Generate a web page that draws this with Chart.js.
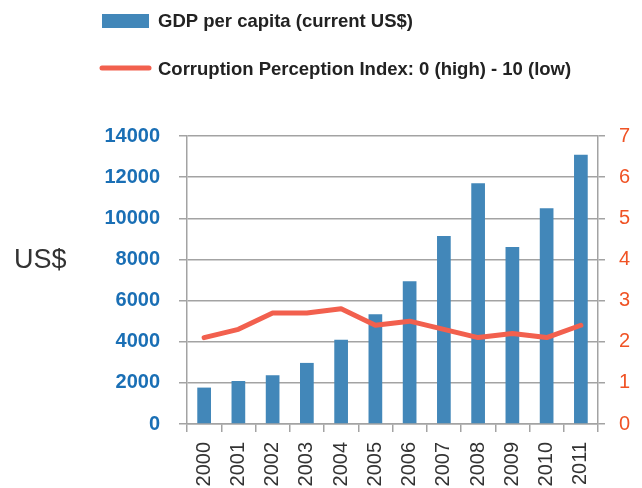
<!DOCTYPE html>
<html>
<head>
<meta charset="utf-8">
<script src="https://cdn.jsdelivr.net/npm/chart.js@4/dist/chart.umd.min.js"></script>
<style>
  html, body { margin: 0; padding: 0; background: #ffffff; }
  #wrap { width: 642px; height: 488px; position: relative; }
</style>
</head>
<body>
<div id="wrap"><canvas id="c" width="642" height="488"></canvas></div>
<script>
const years = ['2000','2001','2002','2003','2004','2005','2006','2007','2008','2009','2010','2011'];
const gdpPerCapita = [1770, 2090, 2370, 2970, 4100, 5330, 6940, 9140, 11700, 8600, 10490, 13090];
const corruptionIndex = [2.1, 2.3, 2.7, 2.7, 2.8, 2.4, 2.5, 2.3, 2.1, 2.2, 2.1, 2.4];
const gdpLabel = 'GDP per capita (current US$)';
const cpiLabel = 'Corruption Perception Index: 0 (high) - 10 (low)';
const leftAxisTitle = 'US$';

const BAR = '#4287b9';
const LINE = '#f2604e';
const GRID = '#a3a3a3';

const customDecor = {
  id: 'customDecor',
  afterDraw(chart) {
    const ctx = chart.ctx;
    const barDs = chart.data.datasets.find(d => d.type === 'bar');
    const lineDs = chart.data.datasets.find(d => d.type === 'line');
    ctx.save();
    // legend row 1 (bars)
    ctx.fillStyle = barDs.backgroundColor;
    ctx.fillRect(102, 14, 47, 14);
    ctx.fillStyle = '#222222';
    ctx.font = 'bold 18.5px "Liberation Sans", Arial, sans-serif';
    ctx.textBaseline = 'middle';
    ctx.textAlign = 'left';
    ctx.fillText(barDs.label, 158, 22);
    // legend row 2 (line)
    ctx.strokeStyle = lineDs.borderColor;
    ctx.lineWidth = 5;
    ctx.lineCap = 'round';
    ctx.beginPath();
    ctx.moveTo(102, 68);
    ctx.lineTo(149, 68);
    ctx.stroke();
    ctx.fillText(lineDs.label, 158, 70);
    // left axis title
    ctx.font = '27px "Liberation Sans", Arial, sans-serif';
    ctx.fillStyle = '#333333';
    ctx.fillText(leftAxisTitle, 14, 261);
    ctx.restore();
  }
};

new Chart(document.getElementById('c'), {
  type: 'bar',
  data: {
    labels: years,
    datasets: [
      {
        type: 'line',
        label: cpiLabel,
        data: corruptionIndex,
        yAxisID: 'y1',
        borderColor: LINE,
        backgroundColor: LINE,
        borderWidth: 5,
        pointRadius: 0,
        tension: 0,
        borderCapStyle: 'round',
        borderJoinStyle: 'round',
        order: 0
      },
      {
        type: 'bar',
        label: gdpLabel,
        data: gdpPerCapita,
        yAxisID: 'y',
        backgroundColor: BAR,
        borderWidth: 0,
        barPercentage: 0.4,
        categoryPercentage: 1.0,
        order: 1
      }
    ]
  },
  options: {
    responsive: false,
    animation: false,
    devicePixelRatio: 1,
    layout: { padding: { top: 136, left: 0, right: 0, bottom: 0 } },
    plugins: {
      legend: { display: false },
      tooltip: { enabled: false }
    },
    scales: {
      x: {
        offset: true,
        afterFit(scale) { scale.height = 64; },
        grid: {
          display: true,
          offset: true,
          drawOnChartArea: false,
          drawTicks: true,
          tickLength: 8,
          color: GRID,
          lineWidth: 1.5
        },
        border: { display: true, color: GRID, width: 1.5 },
        ticks: {
          minRotation: 90,
          maxRotation: 90,
          padding: 10,
          color: '#333333',
          font: { family: '"Liberation Sans", Arial, sans-serif', size: 20 }
        }
      },
      y: {
        position: 'left',
        min: 0,
        max: 14000,
        afterFit(scale) { scale.width = 187; },
        ticks: {
          stepSize: 2000,
          padding: 19,
          color: '#1a6fb5',
          callback: v => String(v),
          font: { family: '"Liberation Sans", Arial, sans-serif', size: 20, weight: 'bold' }
        },
        grid: {
          color: GRID,
          lineWidth: 1.5,
          tickLength: 8,
          drawTicks: true
        },
        border: { display: true, color: GRID, width: 1.5 }
      },
      y1: {
        position: 'right',
        min: 0,
        max: 7,
        afterFit(scale) { scale.width = 44; },
        ticks: {
          stepSize: 1,
          padding: 14,
          color: '#f05325',
          callback: v => String(v),
          font: { family: '"Liberation Sans", Arial, sans-serif', size: 20 }
        },
        grid: {
          drawOnChartArea: false,
          color: GRID,
          lineWidth: 1.5,
          tickLength: 7,
          drawTicks: true
        },
        border: { display: true, color: GRID, width: 1.5 }
      }
    }
  },
  plugins: [customDecor]
});
</script>
</body>
</html>
